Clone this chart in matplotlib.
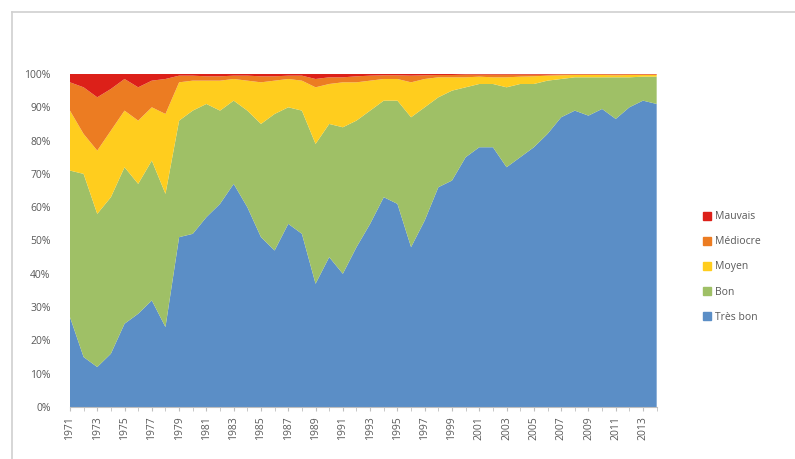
import matplotlib.pyplot as plt
import numpy as np
from matplotlib.patches import Patch
from matplotlib.lines import Line2D

years = list(range(1971, 2015))

# share of each class per year, in %
tres_bon = [27, 15, 12, 16, 25, 28, 32, 24, 51, 52, 57, 61, 67, 60, 51, 47, 55, 52, 37, 45,
            40, 48, 55, 63, 61, 48, 56, 66, 68, 75, 78, 78, 72, 75, 78, 82, 87, 89, 87.5, 89.5,
            86.5, 90, 92, 91]
bon = [44, 55, 46, 47, 47, 39, 42, 40, 35, 37, 34, 28, 25, 29, 34, 41, 35, 37, 42, 40,
       44, 38, 34, 29, 31, 39, 34, 27, 27, 21, 19, 19, 24, 22, 19, 16, 11.5, 10, 11.5, 9.5,
       12.5, 9, 7.2, 8.2]
moyen = [18, 12, 19, 20, 17, 19, 16, 24, 11.5, 9, 7, 9, 6.5, 9, 12.5, 10, 8.5, 9, 17, 12,
         13.5, 11.5, 9, 6.5, 6.5, 10.5, 8.5, 6, 4, 3, 2.2, 2, 3, 2.2, 2.3, 1.5, 1.1, 0.7, 0.7, 0.7,
         0.6, 0.7, 0.5, 0.5]
mediocre = [8.5, 14, 16, 12.5, 9.5, 10, 8, 10.5, 2, 1.5, 1.3, 1.3, 1, 1.5, 1.8, 1.3, 1, 1.5, 2.5, 2,
            1.5, 1.8, 1.5, 1.1, 1.1, 2, 1.1, 0.7, 0.7, 0.8, 0.6, 0.8, 0.8, 0.6, 0.5, 0.3, 0.3, 0.2, 0.2, 0.2,
            0.3, 0.2, 0.2, 0.2]
mauvais = [2.5, 4, 7, 4.5, 1.5, 4, 2, 1.5, 0.5, 0.5, 0.7, 0.7, 0.5, 0.5, 0.7, 0.7, 0.5, 0.5, 1.5, 1,
           1, 0.7, 0.5, 0.4, 0.4, 0.5, 0.4, 0.3, 0.3, 0.2, 0.2, 0.2, 0.2, 0.2, 0.2, 0.2, 0.1, 0.1, 0.1, 0.1,
           0.1, 0.1, 0.1, 0.1]

labels = ["Très bon", "Bon", "Moyen", "Médiocre", "Mauvais"]
colors = ["#5b8ec6", "#9fc066", "#ffcd1e", "#ec7c22", "#dc2019"]

plt.rcParams['font.family'] = ['Open Sans', 'DejaVu Sans']
txt = "#595959"

fig = plt.figure(figsize=(7.95, 4.59), dpi=100)
ax = fig.add_axes([0.088, 0.1133, 0.738, 0.7255])

data = np.array([tres_bon, bon, moyen, mediocre, mauvais])
data = data / data.sum(axis=0) * 100
ax.stackplot(years, data, colors=colors, labels=labels, linewidth=0)

ax.set_xlim(1971, 2014)
ax.set_ylim(0, 100)
ax.set_yticks(np.arange(0, 101, 10))
ax.set_yticklabels([f"{v}%" for v in range(0, 101, 10)])
ax.set_xticks(years[::2])
ax.set_xticks(years, minor=True)
ax.tick_params(axis='x', labelrotation=90, labelsize=7.5, colors=txt, length=3, color="#bfbfbf")
ax.tick_params(axis='x', which='minor', length=3, color="#bfbfbf")
ax.tick_params(axis='y', labelsize=7.5, colors=txt, length=0, pad=14)
for s in ["top", "right", "left"]:
    ax.spines[s].set_visible(False)
ax.spines["bottom"].set_color("#bfbfbf")

handles = [Patch(color=c, label=l) for c, l in zip(colors, labels)][::-1]
leg = fig.legend(handles=handles, loc="upper left", bbox_to_anchor=(0.872, 0.56),
                 frameon=False, fontsize=7.5, labelspacing=1.35, handlelength=0.8,
                 handleheight=0.8, handletextpad=0.4)
for t in leg.get_texts():
    t.set_color(txt)

# chart border (top and left edges visible)
fig.add_artist(Line2D([0.015, 1.0], [0.974, 0.974], color="#d0d0d0", lw=1.2))
fig.add_artist(Line2D([0.015, 0.015], [0.0, 0.974], color="#d0d0d0", lw=1.2))

fig.savefig("out.png", dpi=100)
